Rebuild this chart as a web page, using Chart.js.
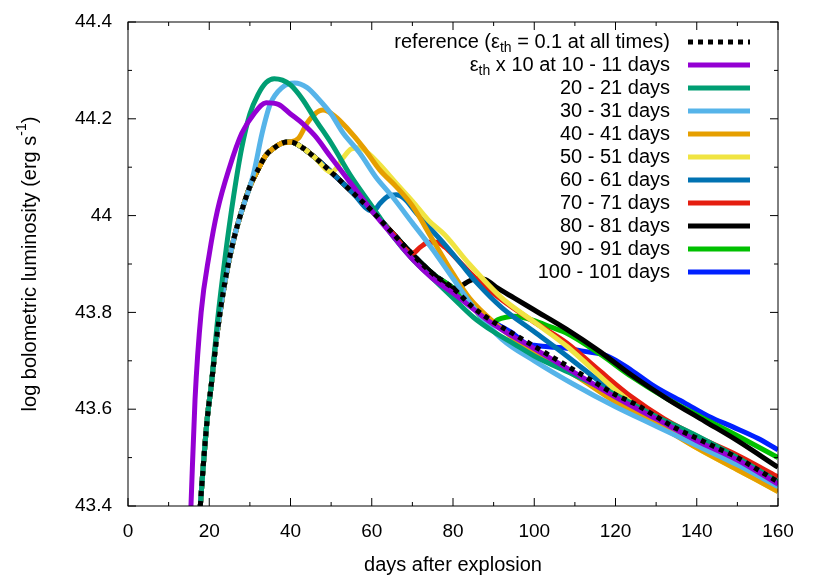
<!DOCTYPE html>
<html><head><meta charset="utf-8">
<script src="https://cdn.jsdelivr.net/npm/chart.js@4"></script>
<style>html,body{margin:0;background:#fff}#wrap{width:830px;height:581px}</style>
</head><body><div id="wrap"><canvas id="c"></canvas></div>
<script>
// ===== DATA =====
const refDays = [17.8,18.5,19.5,20.5,22,24,26,28,30,32,34,36,38,40,43,46,50,55,60,65,70,75,80,85,90,95,100,105,110,115,120,125,130,135,140,145,150,155,160];
const refLum  = [43.40,43.48,43.58,43.65,43.76,43.87,43.95,44.01,44.06,44.095,44.125,44.14,44.15,44.152,44.14,44.12,44.09,44.05,44.01,43.965,43.92,43.88,43.85,43.81,43.78,43.755,43.73,43.705,43.68,43.655,43.63,43.61,43.585,43.56,43.54,43.52,43.5,43.475,43.45];

// each run: days/lum after it leaves the reference curve
const d10 = [15.5,16.5,18,20,22,25,28,31,34,37,40,43,46,50,55,60,65,70,75,80,90,100,110,120,130,140,150,160];
const l10 = [43.40,43.62,43.80,43.92,44.01,44.10,44.17,44.21,44.233,44.23,44.21,44.19,44.165,44.12,44.065,44.01,43.96,43.91,43.87,43.84,43.775,43.725,43.675,43.625,43.58,43.535,43.495,43.445];
const d20 = [20.5,22,24,26,28,30,32,34,36,38,40,43,46,50,55,60,65,70,75,80,85,90,95,100,110,120,130,140,150,160];
const l20 = [43.65,43.78,43.92,44.04,44.14,44.21,44.25,44.275,44.283,44.28,44.27,44.24,44.2,44.15,44.08,44.02,43.96,43.91,43.87,43.83,43.79,43.76,43.735,43.71,43.67,43.63,43.585,43.545,43.5,43.45];
const d30 = [31,33,35,38,41,44,47,50,53,57,61,65,70,75,80,86,92,100,110,120,130,140,150,160];
const l30 = [44.09,44.17,44.23,44.265,44.274,44.265,44.24,44.21,44.17,44.13,44.08,44.04,43.985,43.93,43.87,43.8,43.745,43.7,43.65,43.605,43.565,43.525,43.485,43.44];
const d40 = [40,42,44,46,48,51,54,58,62,66,70,75,80,84,90,100,110,120,130,140,150,160];
const l40 = [44.152,44.16,44.19,44.21,44.218,44.205,44.18,44.14,44.094,44.06,44.02,43.95,43.88,43.83,43.78,43.716,43.67,43.615,43.57,43.52,43.475,43.43];
const d50 = [51,53,55,57,59,62,66,70,74,78,84,92,100,108,120,130,140,150,160];
const l50 = [44.095,44.12,44.138,44.14,44.13,44.105,44.067,44.03,43.99,43.96,43.9,43.83,43.78,43.73,43.64,43.575,43.52,43.475,43.43];
const d60 = [60.5,62,64,66,68,71,74,78,82,86,92,100,108,118,128,140,150,160];
const l60 = [44.01,44.025,44.04,44.043,44.035,44.005,43.977,43.94,43.9,43.86,43.81,43.76,43.71,43.645,43.585,43.53,43.49,43.447];
const d70 = [70,72,74,76,78,81,85,92,100,108,116,124,132,141,150,160];
const l70 = [43.922,43.935,43.945,43.945,43.935,43.91,43.875,43.826,43.78,43.737,43.68,43.625,43.58,43.54,43.505,43.46];
const d80 = [80,82,84,86,88,91,95,100,108,116,124,133,142,150,160];
const l80 = [43.85,43.855,43.865,43.87,43.868,43.85,43.83,43.805,43.765,43.72,43.67,43.62,43.575,43.535,43.48];
const d90 = [89,91,93,95,97,100,104,108,116,124,132,141,150,160];
const l90 = [43.775,43.785,43.79,43.792,43.79,43.783,43.77,43.757,43.715,43.667,43.625,43.584,43.545,43.5];
const d100 = [98,100,102,105,108,112,118,124,130,137,143,149,155,160];
const l100 = [43.735,43.732,43.73,43.728,43.726,43.72,43.71,43.68,43.645,43.613,43.585,43.563,43.54,43.516];

const runLabels = ["10 - 11 days","20 - 21 days","30 - 31 days","40 - 41 days","50 - 51 days","60 - 61 days","70 - 71 days","80 - 81 days","90 - 91 days","100 - 101 days"];
const runColors = ["#9400d3","#009e73","#56b4e9","#e69f00","#f0e442","#0072b2","#e51e10","#000000","#00c000","#0020ff"];
const runDays = [d10,d20,d30,d40,d50,d60,d70,d80,d90,d100];
const runLum  = [l10,l20,l30,l40,l50,l60,l70,l80,l90,l100];

// prepend the reference part before each run departs
function build(days, lum) {
  const pts = [];
  refDays.forEach((d, i) => { if (d < days[0]) pts.push({x: d, y: refLum[i]}); });
  days.forEach((d, i) => pts.push({x: d, y: lum[i]}));
  return pts;
}

const datasets = runDays.map((d, i) => ({
  label: runLabels[i], data: build(d, runLum[i]), borderColor: runColors[i],
  borderWidth: 5, pointRadius: 0, cubicInterpolationMode: 'monotone', order: 2
}));
datasets.unshift({
  label: "reference", data: refDays.map((d, i) => ({x: d, y: refLum[i]})),
  borderColor: "#000", borderWidth: 5, borderDash: [5, 5], pointRadius: 0,
  cubicInterpolationMode: 'monotone', order: 1
});

const FONT = '"Liberation Sans", Arial, sans-serif';

// ===== custom drawing: inward ticks, box, legend, y title =====
const decor = {
  id: 'decor',
  afterDraw(chart) {
    const {ctx, chartArea: a, scales: {x, y}} = chart;
    ctx.save();
    ctx.strokeStyle = '#000'; ctx.lineWidth = 1;
    ctx.strokeRect(a.left, a.top, a.right - a.left, a.bottom - a.top);
    ctx.beginPath();
    for (let v = 0; v <= 160; v += 10) {
      const px = x.getPixelForValue(v), L = v % 20 ? 4 : 8;
      ctx.moveTo(px, a.bottom); ctx.lineTo(px, a.bottom - L);
      ctx.moveTo(px, a.top); ctx.lineTo(px, a.top + L);
    }
    for (let v = 43.4; v <= 44.41; v += 0.1) {
      const py = y.getPixelForValue(v), L = Math.round(v * 10) % 2 ? 4 : 8;
      ctx.moveTo(a.left, py); ctx.lineTo(a.left + L, py);
      ctx.moveTo(a.right, py); ctx.lineTo(a.right - L, py);
    }
    ctx.stroke();

    // legend
    const tx = 670, lx0 = 688, lx1 = 750, y0 = 42, dy = 23;
    ctx.fillStyle = '#000'; ctx.textBaseline = 'middle';
    const big = '20px ' + FONT, small = '14px ' + FONT;
    function rich(parts, yy, right) {
      let w = 0;
      parts.forEach(p => { ctx.font = p[1] === 'n' ? big : small; w += ctx.measureText(p[0]).width; });
      let cx = right ? tx - w : -w / 2; ctx.textAlign = 'left';
      parts.forEach(p => {
        ctx.font = p[1] === 'n' ? big : small;
        ctx.fillText(p[0], cx, yy + (p[1] === 'sub' ? 6 : p[1] === 'sup' ? -8 : 0));
        cx += ctx.measureText(p[0]).width;
      });
    }
    rich([["reference (ε", 'n'], ["th", 'sub'], [" = 0.1 at all times)", 'n']], y0, true);
    rich([["ε", 'n'], ["th", 'sub'], [" x 10 at 10 - 11 days", 'n']], y0 + dy, true);
    for (let i = 1; i < runLabels.length; i++) rich([[runLabels[i], 'n']], y0 + dy * (i + 1), true);
    ctx.lineWidth = 5;
    ctx.strokeStyle = '#000'; ctx.setLineDash([5, 5]);
    ctx.beginPath(); ctx.moveTo(lx0, y0); ctx.lineTo(lx1, y0); ctx.stroke();
    ctx.setLineDash([]);
    runColors.forEach((c, i) => {
      ctx.strokeStyle = c; ctx.beginPath();
      ctx.moveTo(lx0, y0 + dy * (i + 1)); ctx.lineTo(lx1, y0 + dy * (i + 1)); ctx.stroke();
    });

    // y title
    ctx.translate(30, (a.top + a.bottom) / 2);
    ctx.rotate(-Math.PI / 2);
    rich([["log bolometric luminosity (erg s", 'n'], ["-1", 'sup'], [")", 'n']], 0, false);
    ctx.restore();
  }
};

new Chart(document.getElementById('c'), {
  type: 'line',
  data: {datasets},
  plugins: [decor],
  options: {
    responsive: true, maintainAspectRatio: false, animation: false,
    layout: {padding: {top: 22, right: 52}},
    plugins: {legend: {display: false}, tooltip: {enabled: false}},
    scales: {
      x: {
        type: 'linear', min: 0, max: 160,
        grid: {display: false}, border: {display: false},
        ticks: {stepSize: 20, color: '#000', font: {size: 19, family: FONT}, padding: 6, maxRotation: 0},
        title: {display: true, text: 'days after explosion', color: '#000', font: {size: 20, family: FONT}},
        afterFit: s => { s.height = 75; }
      },
      y: {
        min: 43.4, max: 44.4,
        grid: {display: false}, border: {display: false},
        ticks: {stepSize: 0.2, color: '#000', font: {size: 19, family: FONT}, padding: 8,
                callback: v => String(+v.toFixed(1))},
        afterFit: s => { s.width = 128; }
      }
    }
  }
});
</script></body></html>
